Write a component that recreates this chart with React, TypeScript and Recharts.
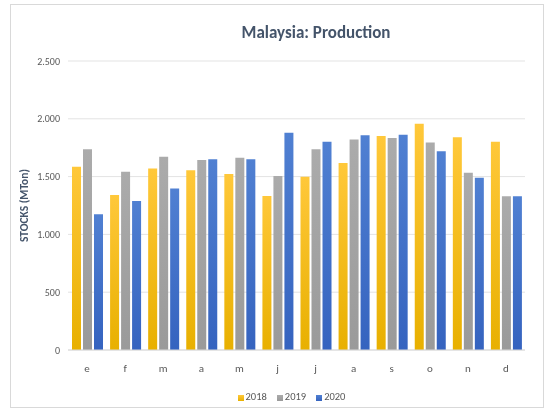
import { Bar, BarChart, CartesianGrid, Legend, XAxis, YAxis } from 'recharts';

const months = ['e', 'f', 'm', 'a', 'm', 'j', 'j', 'a', 's', 'o', 'n', 'd'];
const y2018 = [1586, 1341, 1569, 1554, 1523, 1332, 1499, 1618, 1851, 1958, 1840, 1802];
const y2019 = [1736, 1543, 1672, 1644, 1664, 1505, 1736, 1822, 1834, 1794, 1534, 1330];
const y2020 = [1174, 1289, 1396, 1650, 1650, 1880, 1802, 1857, 1863, 1719, 1491, 1330];
const yTicks = [0, 500, 1000, 1500, 2000, 2500];

const data = months.map((m, i) => ({
  idx: i,
  month: m,
  '2018': y2018[i],
  '2019': y2019[i],
  '2020': y2020[i],
}));

const fmt = (v: number) => (v >= 1000 ? `${Math.floor(v / 1000)}.${String(v % 1000).padStart(3, '0')}` : String(v));

const font = 'Calibri, Carlito, "Open Sans", "Liberation Sans", sans-serif';

export default function App() {
  return (
    <div style={{ position: 'fixed', left: 0, top: 0, width: 553, height: 411, background: '#fff', fontFamily: font }}>
      <div
        style={{
          position: 'absolute',
          left: 10,
          top: 4,
          width: 534,
          height: 404,
          border: '1px solid #d9d9d9',
          boxSizing: 'border-box',
        }}
      />
      <div
        style={{
          position: 'absolute',
          left: 0,
          width: 632,
          top: 22,
          textAlign: 'center',
          fontSize: 17,
          fontWeight: 'bold',
          color: '#44546a',
        }}
      >
        Malaysia: Production
      </div>
      <div style={{ position: 'absolute', left: 0, top: 0 }}>
        <BarChart
          width={553}
          height={411}
          data={data}
          margin={{ top: 61, right: 28, left: 20, bottom: 8 }}
          barGap={2}
          barSize={9}
        >
          <defs>
            <linearGradient id="g18" x1="0" y1="0" x2="0" y2="1">
              <stop offset="0%" stopColor="#ffc83a" />
              <stop offset="100%" stopColor="#e8b000" />
            </linearGradient>
            <linearGradient id="g19" x1="0" y1="0" x2="0" y2="1">
              <stop offset="0%" stopColor="#ababab" />
              <stop offset="100%" stopColor="#9a9a9a" />
            </linearGradient>
            <linearGradient id="g20" x1="0" y1="0" x2="0" y2="1">
              <stop offset="0%" stopColor="#5080d2" />
              <stop offset="100%" stopColor="#3563bf" />
            </linearGradient>
          </defs>
          <CartesianGrid vertical={false} stroke="#e3e3e3" />
          <XAxis
            dataKey="idx"
            tickFormatter={(i: number) => months[i]}
            tick={{ fill: '#595959', fontSize: 11, fontFamily: font }}
            tickLine={false}
            axisLine={{ stroke: '#d9d9d9' }}
            tickMargin={8}
            height={40}
          />
          <YAxis
            domain={[0, 2500]}
            ticks={yTicks}
            tickFormatter={fmt}
            tick={{ fill: '#595959', fontSize: 10, fontFamily: font }}
            tickLine={false}
            axisLine={false}
            width={48}
            label={{
              value: 'STOCKS (MTon)',
              angle: -90,
              position: 'insideLeft',
              offset: 4,
              style: { fill: '#44546a', fontSize: 11.5, fontWeight: 'bold', fontFamily: font, textAnchor: 'middle' },
            }}
          />
          <Legend
            iconType="square"
            iconSize={6}
            wrapperStyle={{ left: 44, fontSize: 10.5, fontFamily: font, color: '#595959', whiteSpace: 'nowrap' }}
            formatter={(v: string) => <span style={{ color: '#595959', marginLeft: -2 }}>{v}</span>}
          />
          <Bar dataKey="2018" fill="url(#g18)" legendType="square" isAnimationActive={false} />
          <Bar dataKey="2019" fill="url(#g19)" legendType="square" isAnimationActive={false} />
          <Bar dataKey="2020" fill="url(#g20)" legendType="square" isAnimationActive={false} />
        </BarChart>
      </div>
    </div>
  );
}
